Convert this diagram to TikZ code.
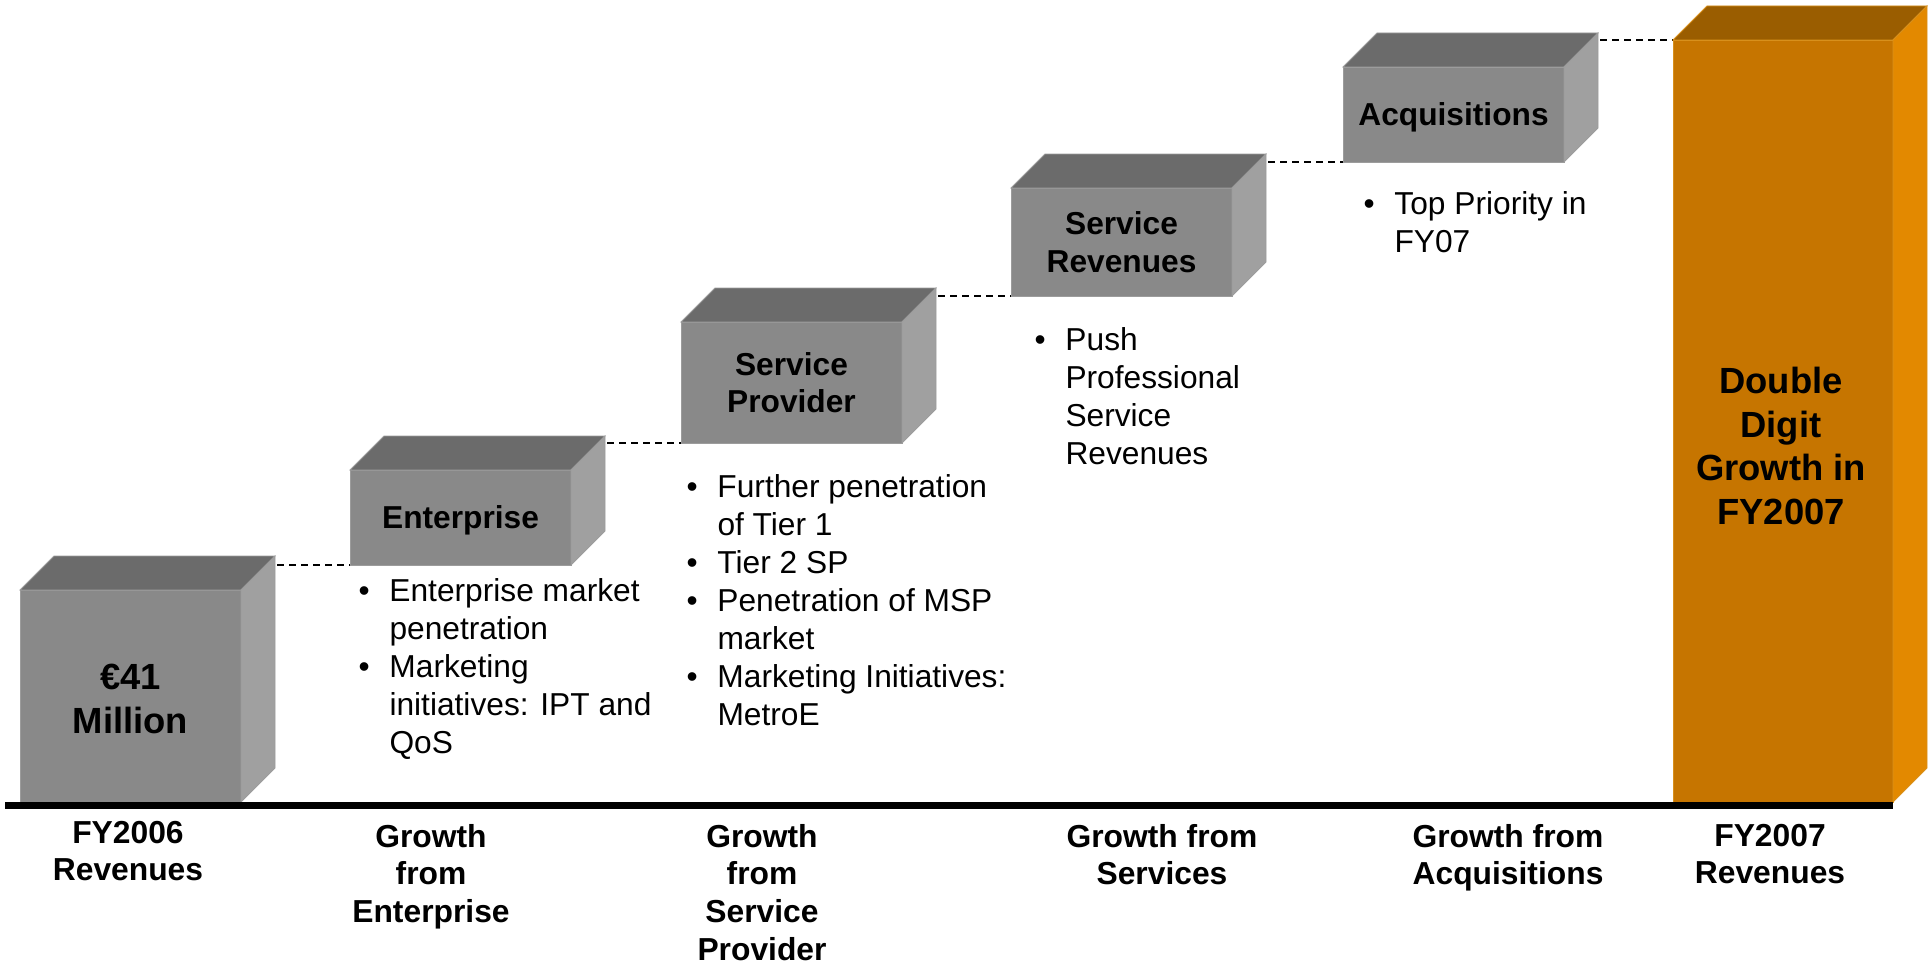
\documentclass[tikz,border=0pt]{standalone}
\usepackage{fontspec}
\setmainfont{Liberation Sans}
\usetikzlibrary{backgrounds}
\definecolor{gfront}{HTML}{898989}
\definecolor{gtop}{HTML}{6B6B6B}
\definecolor{gside}{HTML}{A0A0A0}
\definecolor{gedge}{HTML}{9C9C9C}
\definecolor{ofront}{HTML}{C67500}
\definecolor{otop}{HTML}{9A5D00}
\definecolor{oside}{HTML}{E38900}
\definecolor{oedge}{HTML}{D8901C}
\newcommand\myboxfont{\fontsize{31.7}{37.5}\selectfont\bfseries}
\newcommand\mybigfont{\fontsize{36.4}{43.5}\selectfont\bfseries}
\newcommand\mybulfont{\fontsize{31.7}{38}\selectfont}
\newcommand\mybotfont{\fontsize{31.8}{37.7}\selectfont\bfseries}
\newcommand\bul{\makebox[31pt][l]{•}}
\newcommand\ind{\makebox[31pt]{}}
\newcommand\cubefaces[4]{%
  \filldraw[fill=#2, draw=#4, line width=0.8pt] (#1.north west) -- ([shift={(34,-34)}]#1.north west) -- ([shift={(34,-34)}]#1.north east) -- (#1.north east) -- cycle;
  \filldraw[fill=#3, draw=#4, line width=0.8pt] (#1.north east) -- ([shift={(34,-34)}]#1.north east) -- ([shift={(34,-34)}]#1.south east) -- (#1.south east) -- cycle;
}
\tikzset{
  front/.style={rectangle, inner sep=0pt, outer sep=0pt, anchor=north west, minimum width=221pt, align=center, font=\myboxfont, line width=0.8pt},
  grayfront/.style={front, fill=gfront, draw=gedge},
  orangefront/.style={front, fill=ofront, draw=oedge},
  dashline/.style={draw=black, line width=1.5pt, dash pattern=on 7pt off 5pt},
  bullets/.style={anchor=north west, inner sep=0pt, outer sep=0pt, align=left, font=\mybulfont},
  bottomlabel/.style={anchor=north, inner sep=0pt, outer sep=0pt, align=center, font=\mybotfont},
  bigtext/.style={inner sep=0pt, outer sep=0pt, align=center, font=\mybigfont},
}
\begin{document}
\begin{tikzpicture}[x=1pt, y=-1pt]
\useasboundingbox (0,0) rectangle (1930,966);

% cubes
\node[grayfront, minimum height=212pt] (c1) at (20,590) {};
\node[bigtext] (c1text) at ([yshift=-3pt]c1.center) {€41\\Million};
\cubefaces{c1}{gtop}{gside}{gedge}
\node[grayfront, minimum height=95pt, text depth=0pt] (c2) at (350,470) {Enterprise};
\cubefaces{c2}{gtop}{gside}{gedge}
\node[grayfront, minimum height=121pt] (c3) at (681,322) {Service\\Provider};
\cubefaces{c3}{gtop}{gside}{gedge}
\node[grayfront, minimum height=108pt] (c4) at (1011,188) {Service\\Revenues};
\cubefaces{c4}{gtop}{gside}{gedge}
\node[grayfront, minimum height=95pt, text depth=0pt] (c5) at (1343,67) {Acquisitions};
\cubefaces{c5}{gtop}{gside}{gedge}
\node[orangefront, minimum width=220pt, minimum height=762pt] (o) at (1673,40) {};
\cubefaces{o}{otop}{oside}{oedge}
\node[bigtext] (otext) at (1781,446) {Double\\Digit\\Growth in\\FY2007};

% baseline
\fill[black] (5,802) rectangle (1893,809);

% dashed connectors behind the cubes
\begin{scope}[on background layer]
\draw[dashline] (c1.north east |- c2.south west) -- (c2.south west);
\draw[dashline] (c2.north east |- c3.south west) -- (c3.south west);
\draw[dashline] (c3.north east |- c4.south west) -- (c4.south west);
\draw[dashline] (c4.north east |- c5.south west) -- (c5.south west);
\draw[dashline] (c5.north east |- o.north west) -- (o.north west);
\end{scope}

% bullet lists
\node[bullets] (l1) at (358.5,579) {\bul Enterprise market\\\ind penetration\\\bul Marketing\\\ind initiatives: IPT and\\\ind QoS};
\node[bullets] (l2) at (686.5,475) {\bul Further penetration\\\ind of Tier 1\\\bul Tier 2 SP\\\bul Penetration of MSP\\\ind market\\\bul Marketing Initiatives:\\\ind MetroE};
\node[bullets] (l3) at (1034.5,328) {\bul Push\\\ind Professional\\\ind Service\\\ind Revenues};
\node[bullets] (l4) at (1363.5,192) {\bul Top Priority in\\\ind FY07};

% bottom labels
\node[bottomlabel] (b1) at (128,821) {FY2006\\Revenues};
\node[bottomlabel] (b2) at (431,824) {Growth\\from\\Enterprise};
\node[bottomlabel] (b3) at (762,824) {Growth\\from\\Service\\Provider};
\node[bottomlabel] (b4) at (1162,824) {Growth from\\Services};
\node[bottomlabel] (b5) at (1508,824) {Growth from\\Acquisitions};
\node[bottomlabel] (b6) at (1770,824) {FY2007\\Revenues};
\end{tikzpicture}
\end{document}
